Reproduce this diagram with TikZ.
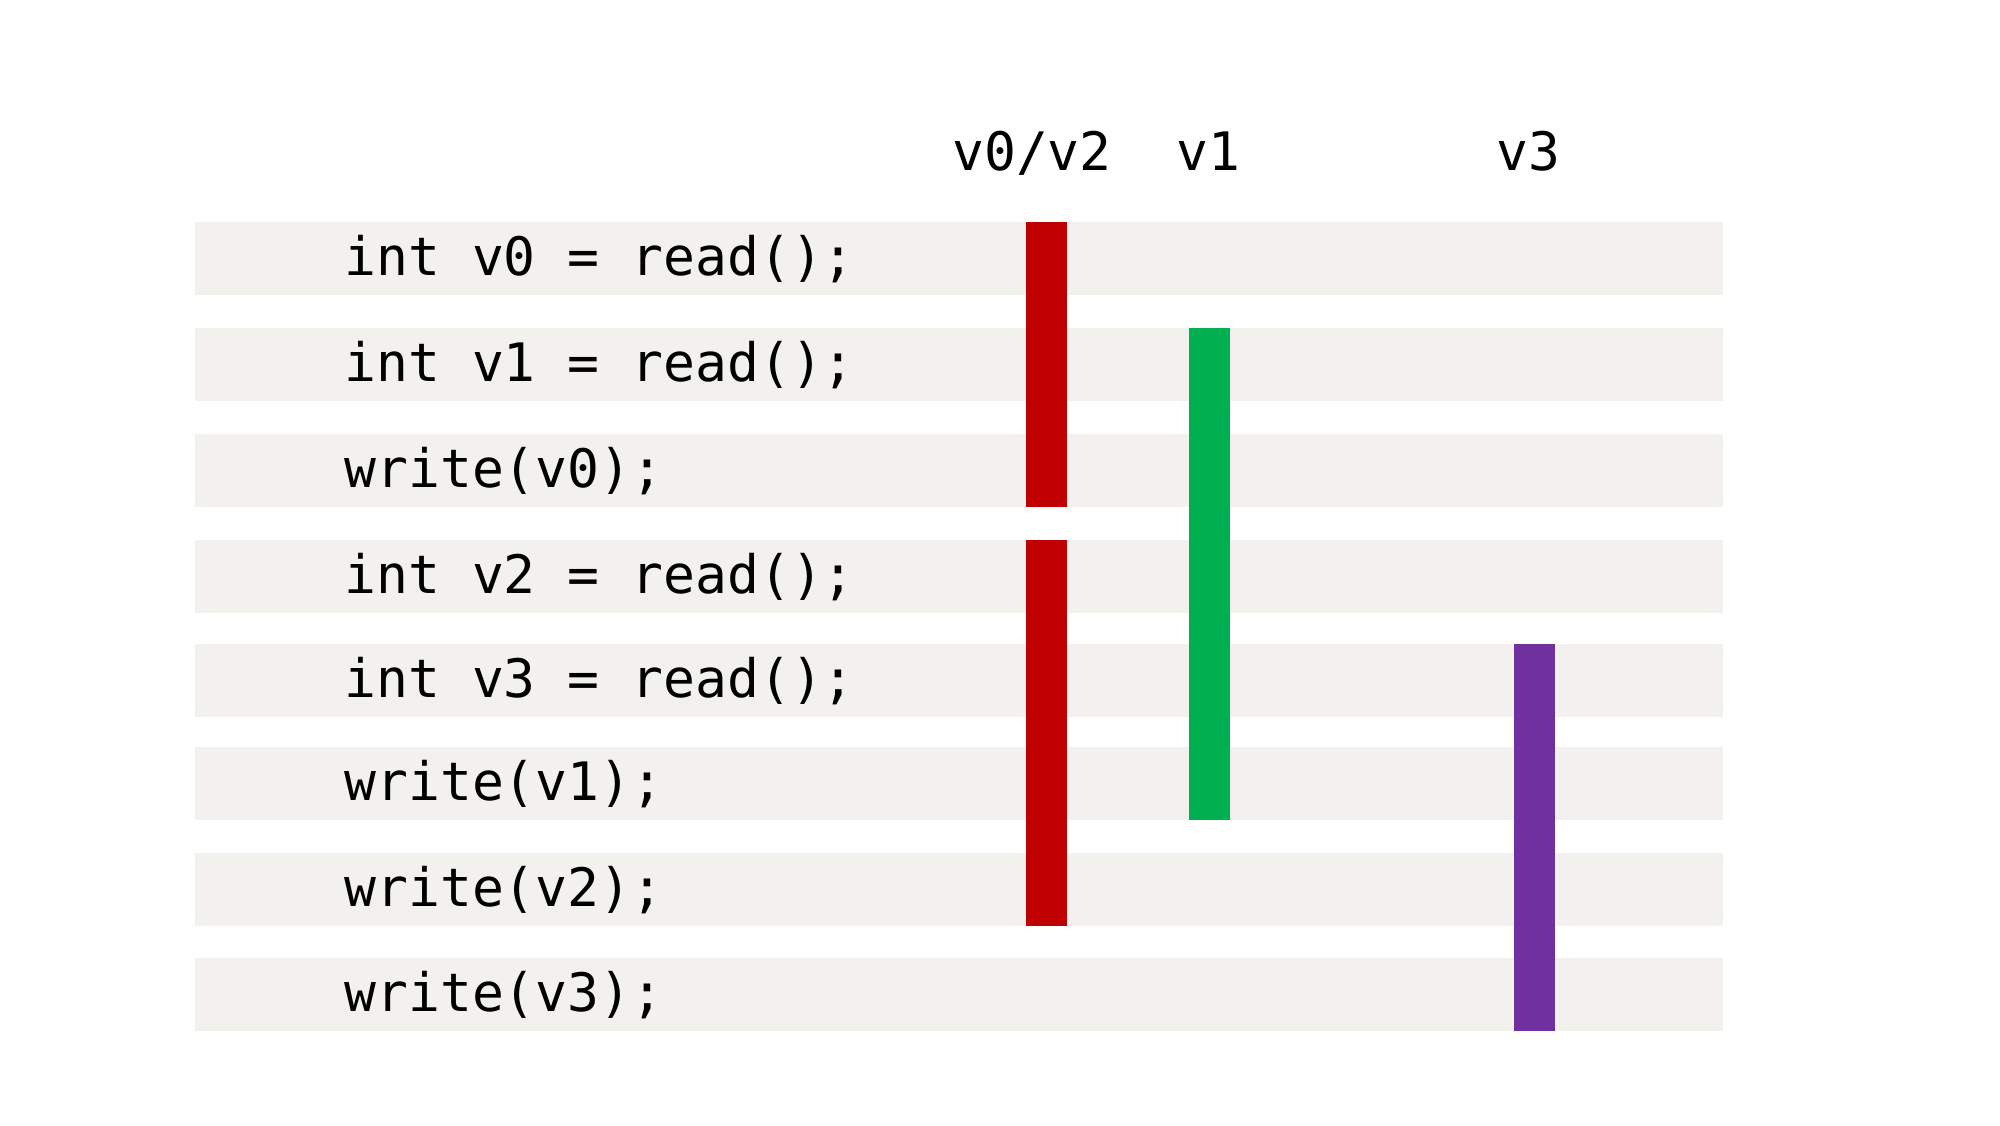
\documentclass[tikz,border=0pt]{standalone}
\usepackage{fontspec}
\setmonofont{DejaVu Sans Mono}
\definecolor{rowgray}{HTML}{F2F1EE}
\definecolor{barred}{HTML}{C00000}
\definecolor{bargreen}{HTML}{00B050}
\definecolor{barpurple}{HTML}{7030A0}
\begin{document}
\begin{tikzpicture}[x=0.5pt,y=-0.5pt,
  code/.style={font=\ttfamily\fontsize{26.5}{30}\selectfont, anchor=base west, inner sep=0pt},
  head/.style={font=\ttfamily\fontsize{26.5}{30}\selectfont, anchor=base, inner sep=0pt},
  rowbg/.style={fill=rowgray},
  bar/.style={fill=#1}]
\fill[white] (0,0) rectangle (2000,1125);
\useasboundingbox (0,0) rectangle (2000,1125);
% row backgrounds
\foreach \t in {222,328,434,540,644,747,853,958}
  \fill[rowbg] (195,\t) rectangle (1723,\t+72.5);
% live-range bars
\fill[bar=barred] (1026,222) rectangle (1067,506.5);
\fill[bar=barred] (1026,540) rectangle (1067,925.5);
\fill[bar=bargreen] (1189,328) rectangle (1230,819.5);
\fill[bar=barpurple] (1514,644) rectangle (1555,1030.5);
% code lines
\node[code] (l1) at (344,275) {int v0 = read();};
\node[code] (l2) at (344,381) {int v1 = read();};
\node[code] (l3) at (344,487) {write(v0);};
\node[code] (l4) at (344,593) {int v2 = read();};
\node[code] (l5) at (344,697) {int v3 = read();};
\node[code] (l6) at (344,800) {write(v1);};
\node[code] (l7) at (344,906) {write(v2);};
\node[code] (l8) at (344,1011) {write(v3);};
% headers
\node[head] (h1) at (1032,170) {v0/v2};
\node[head] (h2) at (1208,170) {v1};
\node[head] (h3) at (1528,170) {v3};
\end{tikzpicture}
\end{document}
